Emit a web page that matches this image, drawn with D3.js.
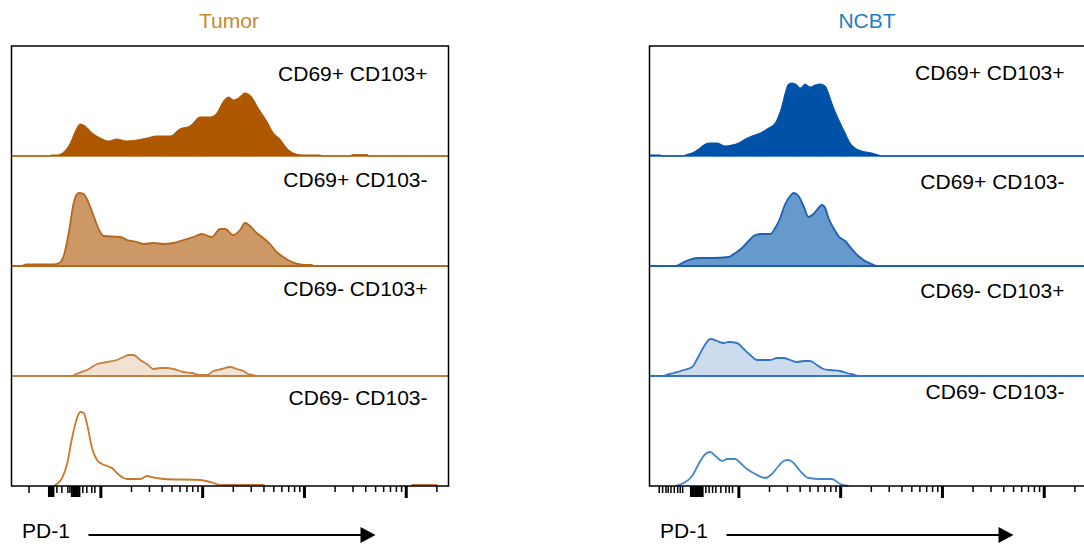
<!DOCTYPE html>
<html>
<head>
<meta charset="utf-8">
<script src="https://cdn.jsdelivr.net/npm/d3@7"></script>
<style>
  body { margin: 0; background: #fff; }
  text { font-family: "Liberation Sans", Arial, sans-serif; }
</style>
</head>
<body>
<div id="chart"></div>
<script>
// PD-1 histograms, x in display decades (log10 of intensity, biex-compressed below 10^2)

const panels = ["Tumor", "NCBT"];
const populations = ["CD69+ CD103+", "CD69+ CD103-", "CD69- CD103+", "CD69- CD103-"];

// [decade, count]
const tumorDP = [[1.13,0],[1.51,0],[1.515,1],[1.575,1],[1.64,4],[1.705,13],[1.755,25],[1.80,32],[1.85,30],[1.92,23],
  [2.00,18],[2.08,15],[2.16,17],[2.26,15],[2.36,16],[2.46,18],[2.555,20],[2.685,20],[2.78,27],[2.88,30],[2.98,39],
  [3.08,39],[3.145,43],[3.21,55],[3.26,59],[3.31,56],[3.355,58],[3.42,63],[3.487,59],[3.55,48],[3.634,35],[3.70,23],
  [3.764,17],[3.83,8],[3.895,3],[3.99,1],[4.156,1],[4.19,0],[4.46,0],[4.47,1.3],[4.627,1.3],[4.64,0],[5.42,0]];
const tumorCD69only = [[1.13,0],[1.215,0],[1.274,1.5],[1.539,1.5],[1.591,2.7],[1.64,10],[1.689,33],[1.738,63],[1.787,73],
  [1.836,72],[1.885,63],[1.934,50],[1.983,37],[2.032,30],[2.196,29],[2.261,26],[2.359,24],[2.424,22],[2.522,23],
  [2.62,22],[2.718,23],[2.816,26],[2.914,29],[2.997,32],[3.095,29],[3.176,37],[3.225,37],[3.306,31],[3.372,36],
  [3.421,43],[3.47,40],[3.536,33],[3.6,28],[3.666,22],[3.732,14],[3.797,9],[3.862,5],[3.928,2.3],[4.026,1],[4.078,1],
  [4.088,0],[5.42,0]];
const tumorCD103only = [[1.13,0],[1.73,0],[1.738,0.7],[1.787,3],[1.869,6],[1.967,12],[2.065,14],[2.163,16],[2.228,19],
  [2.277,21],[2.326,21],[2.392,16],[2.457,12],[2.522,7],[2.588,8],[2.653,8],[2.718,7],[2.816,4],[2.899,3],[2.98,1],
  [3.046,1],[3.11,5],[3.193,7],[3.274,9],[3.34,7],[3.405,5],[3.453,2],[3.503,1],[3.536,0],[5.42,0]];
const tumorDN = [[1.542,0],[1.624,8],[1.673,22],[1.722,48],[1.771,68],[1.803,74],[1.836,73],[1.869,62],[1.918,38],
  [1.967,26],[2.016,22],[2.065,20],[2.114,18],[2.163,13],[2.228,8],[2.261,7],[2.392,7],[2.457,10],[2.506,9],[2.555,8],
  [2.62,7],[2.98,6],[3.11,3],[3.176,1],[3.6,1],[3.617,0]];
const tumorDNtail = [[5.055,0],[5.068,1],[5.3,1],[5.313,0]];

const ncbtDP = [[1.127,1],[1.235,1],[1.252,0],[1.463,0],[1.48,1],[1.546,3],[1.61,7],[1.676,12],[1.725,13],[1.791,13],
  [1.872,10],[1.938,11],[2.003,13],[2.068,17],[2.134,20],[2.215,23],[2.297,28],[2.362,33],[2.395,40],[2.428,50],
  [2.46,63],[2.493,72],[2.526,73],[2.575,71],[2.607,68],[2.656,72],[2.705,69],[2.754,71],[2.803,72],[2.853,70],
  [2.885,63],[2.918,53],[2.983,37],[3.049,23],[3.098,13],[3.147,8],[3.212,5],[3.31,3],[3.375,1],[3.424,0],[5.42,0]];
const ncbtCD69only = [[1.127,0],[1.382,0],[1.448,3],[1.512,6],[1.61,8],[1.742,8],[1.904,9],[1.97,13],[2.036,18],
  [2.1,25],[2.166,31],[2.232,32],[2.313,32],[2.362,38],[2.411,48],[2.46,62],[2.509,70],[2.542,73],[2.591,70],
  [2.64,60],[2.689,49],[2.738,52],[2.787,58],[2.82,61],[2.853,58],[2.885,48],[2.934,38],[2.983,30],[3.049,25],
  [3.114,17],[3.179,10],[3.245,5],[3.31,2],[3.359,0],[5.42,0]];
const ncbtCD103only = [[1.127,0],[1.27,0],[1.284,0.7],[1.365,3],[1.463,6],[1.546,9],[1.595,17],[1.659,29],[1.725,37],
  [1.791,35],[1.855,33],[1.904,34],[1.987,33],[2.052,27],[2.117,21],[2.183,16],[2.248,16],[2.313,16],[2.379,18],
  [2.444,18],[2.509,16],[2.575,14],[2.64,15],[2.705,15],[2.771,11],[2.836,7],[2.902,6],[3.0,5],[3.065,3],[3.147,1],
  [3.179,0],[5.42,0]];
const ncbtDN = [[1.382,0],[1.463,3],[1.546,10],[1.61,22],[1.676,32],[1.725,34],[1.774,30],[1.84,25],[1.889,27],
  [1.97,27],[2.019,23],[2.085,17],[2.166,12],[2.264,8],[2.33,12],[2.395,20],[2.444,25],[2.493,26],[2.542,23],
  [2.607,15],[2.689,8],[2.803,7],[2.918,7],[3.0,2],[3.081,0]];

// axis ticks (decades)
const majorTicks = [2, 3, 4, 5];
const tumorNearMajor = [1.49, 1.505, 1.519, 1.534, 1.715, 1.73, 1.745, 1.759, 1.774, 1.789];
const tumorNearMinor = [1.294, 1.568, 1.617, 1.676, 1.696, 1.823, 1.862, 1.911, 1.941];
const ncbtNearMajor = [1.529, 1.544, 1.558, 1.573, 1.588, 1.602, 1.617, 1.632, 1.644];
const ncbtNearMinor = [1.218, 1.251, 1.284, 1.306, 1.333, 1.365, 1.399, 1.424, 1.448,
  1.676, 1.708, 1.742, 1.774, 1.823, 1.872, 1.905, 1.938];

// styles
const panelStyle = [
  { title: "#c8892f", base: "#dcaa7a",
    fill: ["#ad5800", "#cc9966", "#f2e2d2", "none"],
    stroke: ["#ad5800", "#b5661c", "#c48040", "#c8782a"] },
  { title: "#1f7fc4", base: "#73a2d9",
    fill: ["#0052a8", "#6699cc", "#ccdcee", "none"],
    stroke: ["#0052a8", "#1f5fb0", "#3575c2", "#4485cc"] }
];

const series = [
  [tumorDP, tumorCD69only, tumorCD103only, tumorDN],
  [ncbtDP, ncbtCD69only, ncbtCD103only, ncbtDN]
];
const nearTicks = [[tumorNearMajor, tumorNearMinor], [ncbtNearMajor, ncbtNearMinor]];

// layout
const svgWidth = 1084, svgHeight = 552;
const panelLeft = [11.5, 649.5];
const panelTop = 46, panelW = 437, rowH = 110;
const labelRight = [416, 415];
const labelDy = [[35, 31, 30, 29], [34, 33, 32, 23]];

const svg = d3.select("#chart").append("svg")
  .attr("width", svgWidth)
  .attr("height", svgHeight);

const x = d3.scaleLinear().domain([1.127, 5.42]).range([0, panelW]);
const y = d3.scaleLinear().domain([0, rowH]).range([rowH, 0]);

const area = d3.area()
  .x(d => x(d[0]))
  .y0(y(0))
  .y1(d => y(d[1]))
  .curve(d3.curveMonotoneX);
const line = d3.line()
  .x(d => x(d[0]))
  .y(d => y(d[1]))
  .curve(d3.curveMonotoneX);

// minor log ticks inside each decade
const minorTicks = [];
[2, 3, 4].forEach(dec => d3.range(2, 10).forEach(k => minorTicks.push(dec + Math.log10(k))));
minorTicks.push(5 + Math.log10(2));

panels.forEach((name, p) => {
  const st = panelStyle[p];
  const g = svg.append("g").attr("transform", `translate(${panelLeft[p]}, ${panelTop})`);

  // title
  g.append("text")
    .attr("x", panelW / 2 - 1)
    .attr("y", -18)
    .attr("text-anchor", "middle")
    .attr("font-size", "21px")
    .attr("fill", st.title)
    .text(name);

  populations.forEach((pop, r) => {
    const row = g.append("g").attr("transform", `translate(0, ${r * rowH})`);
    if (r < 3) {
      row.append("line")
        .attr("x1", 0).attr("x2", panelW)
        .attr("y1", y(0)).attr("y2", y(0))
        .attr("stroke", st.base)
        .attr("stroke-width", 1.3);
    }
    const data = series[p][r];
    if (st.fill[r] !== "none") {
      row.append("path")
        .datum(data)
        .attr("d", area)
        .attr("fill", st.fill[r])
        .attr("stroke", st.stroke[r])
        .attr("stroke-width", r === 0 ? 1 : 1.8);
    } else {
      row.append("path")
        .datum(data)
        .attr("d", line)
        .attr("fill", "none")
        .attr("stroke", st.stroke[r])
        .attr("stroke-width", 1.8);
    }
    if (p === 0 && r === 3) {
      row.append("path")
        .datum(tumorDNtail)
        .attr("d", line)
        .attr("fill", "none")
        .attr("stroke", st.stroke[r])
        .attr("stroke-width", 1.8);
    }
    row.append("text")
      .attr("x", labelRight[p])
      .attr("y", labelDy[p][r])
      .attr("text-anchor", "end")
      .attr("font-size", "21px")
      .attr("fill", "#000")
      .text(pop);
  });

  // frame
  g.append("rect")
    .attr("x", 0).attr("y", 0)
    .attr("width", panelW).attr("height", rowH * 4)
    .attr("fill", "none")
    .attr("stroke", "#000")
    .attr("stroke-width", 1.5);

  // axis ticks
  const axisG = g.append("g").attr("transform", `translate(0, ${rowH * 4})`);
  const addTicks = (vals, len, w) => {
    const a = axisG.append("g")
      .call(d3.axisBottom(x).tickValues(vals).tickSize(len).tickFormat(""));
    a.select(".domain").remove();
    a.selectAll(".tick line").attr("stroke", "#000").attr("stroke-width", w);
  };
  addTicks(minorTicks, 6, 1.5);
  addTicks(nearTicks[p][1], 7, 1.5);
  addTicks(nearTicks[p][0], 11, 2);
  addTicks(majorTicks, 12, 3);

  // PD-1 arrow
  g.append("text")
    .attr("x", 10.5)
    .attr("y", 538 - panelTop)
    .attr("font-size", "21px")
    .attr("fill", "#000")
    .text("PD-1");
  g.append("line")
    .attr("x1", 77).attr("x2", 352)
    .attr("y1", 535 - panelTop).attr("y2", 535 - panelTop)
    .attr("stroke", "#000")
    .attr("stroke-width", 2.2);
  g.append("path")
    .attr("d", `M349,${527 - panelTop}L364,${535 - panelTop}L349,${543 - panelTop}Z`)
    .attr("fill", "#000");
});
</script>
</body>
</html>
